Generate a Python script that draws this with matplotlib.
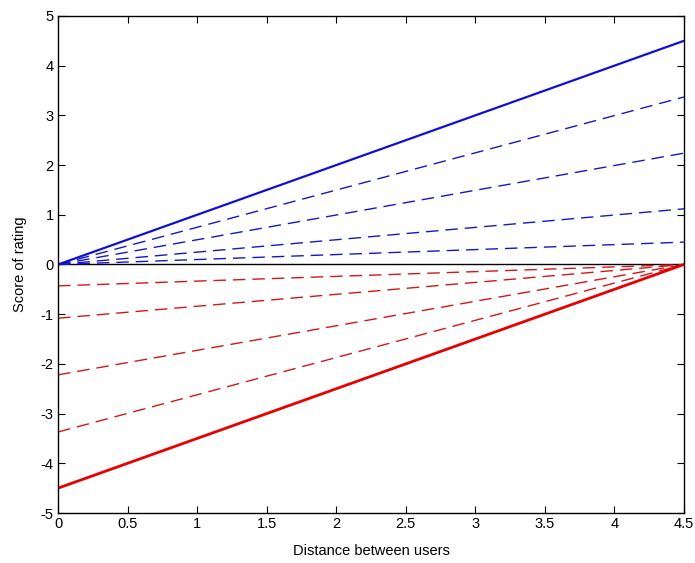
import matplotlib
matplotlib.use("Agg")
import matplotlib.pyplot as plt
import numpy as np

x_ends = [0, 4.5]
blue_solid = [0, 4.5]
blue_dashed_ends = [3.37, 2.24, 1.12, 0.45]
red_solid = [-4.5, 0]
red_dashed_starts = [-3.37, -2.22, -1.08, -0.43]
xticks = [0, 0.5, 1, 1.5, 2, 2.5, 3, 3.5, 4, 4.5]
xticklabels = ["0", "0.5", "1", "1.5", "2", "2.5", "3", "3.5", "4", "4.5"]
yticks = [-5, -4, -3, -2, -1, 0, 1, 2, 3, 4, 5]

plt.rcParams['font.family'] = ['Liberation Sans', 'DejaVu Sans']
plt.rcParams['axes.unicode_minus'] = False
fig = plt.figure(figsize=(6.95, 5.63), dpi=100)
ax = fig.add_axes([0.0835, 0.0888, 0.9005, 0.8828])

ax.plot(x_ends, [0, 0], color='black', lw=1.0)
for v in blue_dashed_ends:
    ax.plot(x_ends, [0, v], color='#1818c0', lw=1.0, dashes=(9, 5))
ax.plot(x_ends, blue_solid, color='#1010d0', lw=1.6)
for v in red_dashed_starts:
    ax.plot(x_ends, [v, 0], color='#d01818', lw=1.0, dashes=(9, 5))
ax.plot(x_ends, red_solid, color='#e80000', lw=2.0)

ax.set_xlim(0, 4.5)
ax.set_ylim(-5, 5)
ax.set_xticks(xticks)
ax.set_xticklabels(xticklabels)
ax.set_yticks(yticks)
ax.tick_params(direction='in', top=True, right=True, labelsize=10.5, length=5, width=0.8, pad=3)
for s in ax.spines.values():
    s.set_linewidth(1.0)
ax.set_xlabel("Distance between users", fontsize=10.5, labelpad=9)
ax.set_ylabel("Score of rating", fontsize=10.5, labelpad=10)

fig.savefig("out.png", dpi=100)
